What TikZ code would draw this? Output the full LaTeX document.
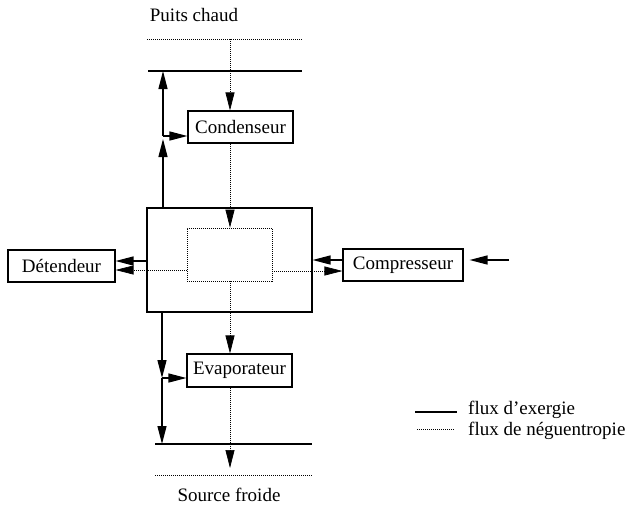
\documentclass[tikz,border=0pt]{standalone}
\usepackage{fontspec}
\setmainfont{Liberation Serif}
\usetikzlibrary{arrows.meta,calc}
\begin{document}
\begin{tikzpicture}[x=1pt,y=-1pt,
  font=\fontsize{19}{22}\selectfont,
  solidline/.style={line width=1.3pt},
  dotline/.style={line width=0.7pt,dash pattern=on 1pt off 1pt},
  tip/.style={-{Triangle[length=18pt,width=9pt]}},
  box/.style={draw,line width=1.1pt,inner sep=0pt,minimum height=32pt},
  lbl/.style={inner sep=0pt}]
\useasboundingbox (0,0) rectangle (626,507);
% texts
\node[lbl] (puits) at (194,15) {Puits chaud};
\node[lbl] (source) at (229,495) {Source froide};
% boxes
\node[box,minimum width=105pt] (cond) at (240.5,127) {Condenseur};
\node[box,minimum width=105pt,minimum height=33pt] (evap) at (239.5,370.5) {Evaporateur};
\node[box,minimum width=107pt] (det) at (61.5,266) {Détendeur};
\node[box,minimum width=120pt] (comp) at (403,265) {Compresseur};
\node[draw,line width=1.1pt,minimum width=165pt,minimum height=104pt,inner sep=0pt] (mid) at (229.5,260) {};
\node[draw,dotline,minimum width=85pt,minimum height=53pt,inner sep=0pt] (inner) at (229.5,254.5) {};
% reservoir lines
\coordinate (td1) at (147,39); \coordinate (td2) at (302,39);
\coordinate (ts1) at (148,71); \coordinate (ts2) at (302,71);
\coordinate (bs1) at (155,444); \coordinate (bs2) at (312,444);
\coordinate (bd1) at (155,475); \coordinate (bd2) at (312,475);
\draw[dotline] (td1) -- (td2);
\draw[solidline] (ts1) -- (ts2);
\draw[solidline] (bs1) -- (bs2);
\draw[dotline] (bd1) -- (bd2);
% neguentropy flow (vertical)
\coordinate (vx) at (230,0);
\draw[dotline,tip] (td1 -| vx) -- (cond.north -| vx);
\draw[dotline,tip] (cond.south -| vx) -- (inner.north -| vx);
\draw[dotline,tip] (inner.south -| vx) -- (evap.north -| vx);
\draw[dotline,tip,shorten >=7pt] (evap.south -| vx) -- (bd1 -| vx);
% exergy flow top
\coordinate (j1) at (163,136);
\draw[solidline,tip,shorten >=3pt] (mid.north -| j1) -- (j1);
\draw[solidline,tip] (j1) -- (ts1 -| j1);
\draw[solidline,tip] (j1) -- (cond.west |- j1);
% exergy flow bottom
\coordinate (j2) at (162,378);
\draw[solidline,tip] (mid.south -| j2) -- (j2);
\draw[solidline,tip] (j2) -- (bs1 -| j2);
\draw[solidline,tip] (j2) -- (evap.west |- j2);
% left side
\coordinate (yl1) at (0,261); \coordinate (yl2) at (0,270);
\draw[solidline,tip] (mid.west |- yl1) -- (det.east |- yl1);
\draw[dotline,tip] (inner.west |- yl2) -- (det.east |- yl2);
% right side
\coordinate (yr1) at (0,260); \coordinate (yr2) at (0,271);
\draw[solidline,tip] (comp.west |- yr1) -- (mid.east |- yr1);
\draw[dotline,tip] (inner.east |- yr2) -- (comp.west |- yr2);
\coordinate (win) at (509,260);
\draw[solidline,tip,shorten >=6pt] (win) -- (comp.east |- win);
% legend
\coordinate (l1a) at (415,412); \coordinate (l1b) at (457,412);
\coordinate (l2a) at (417,429); \coordinate (l2b) at (455,429);
\draw[solidline] (l1a) -- (l1b);
\draw[dotline] (l2a) -- (l2b);
\node[lbl,anchor=west] (leg1) at (468,410) {flux d’exergie};
\node[lbl,anchor=west] (leg2) at (468,431) {flux de néguentropie};
\end{tikzpicture}
\end{document}
